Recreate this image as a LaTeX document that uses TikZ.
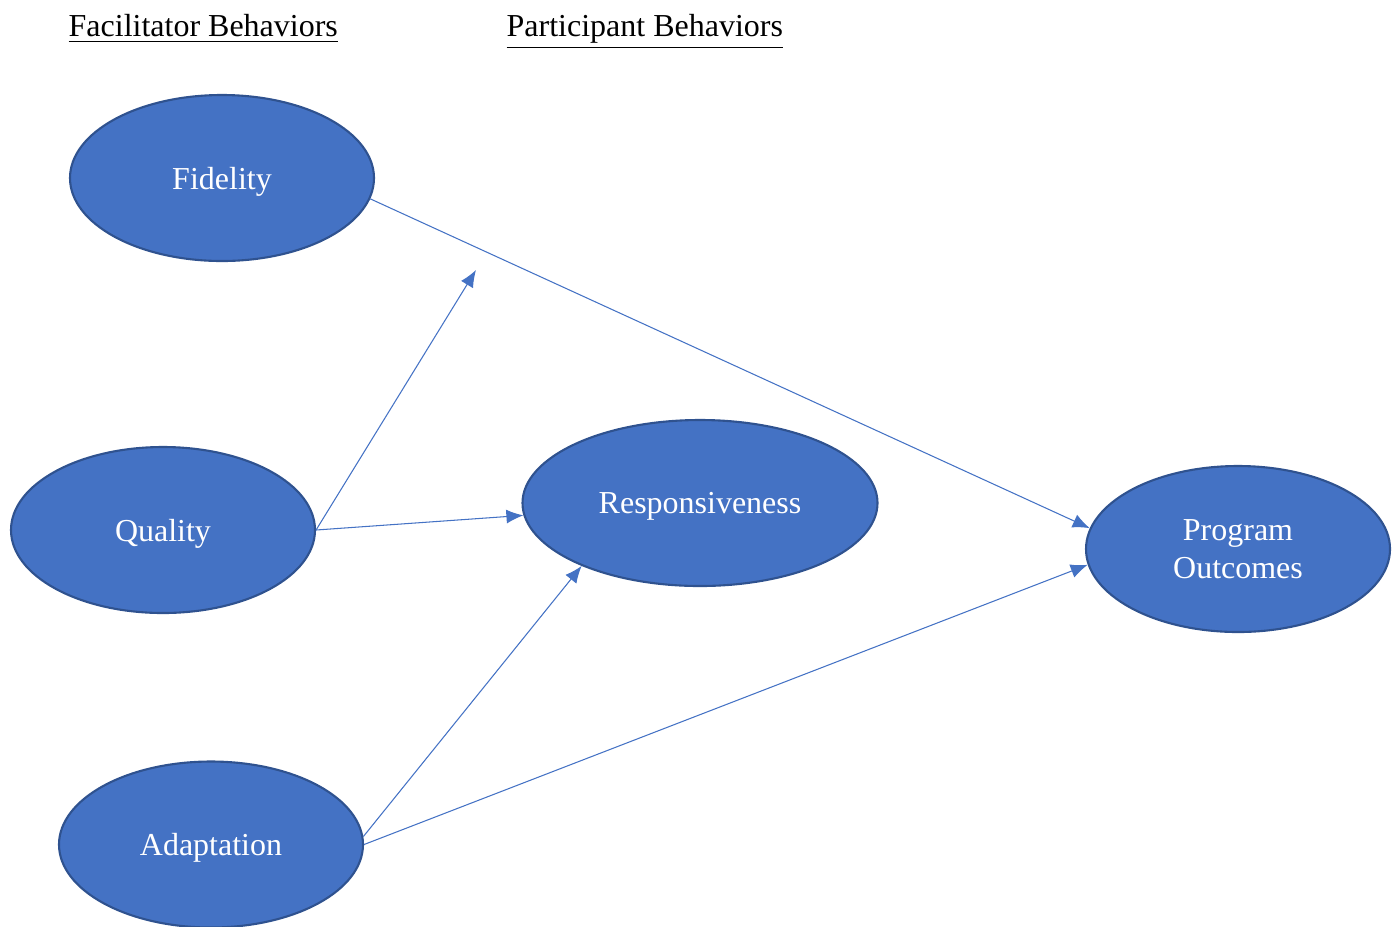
\documentclass[tikz,border=0pt]{standalone}
\usepackage{fontspec}
\setmainfont{Liberation Serif}
\usetikzlibrary{shapes.geometric,arrows.meta}
\definecolor{bubblefill}{HTML}{4472C4}
\definecolor{bubbledraw}{HTML}{2F528F}
\begin{document}
\begin{tikzpicture}[>={Latex[length=1.7mm,width=1.4mm]},
    bubble/.style={ellipse, fill=bubblefill, draw=bubbledraw, line width=0.6pt,
        text=white, inner sep=0pt, minimum width=3.04cm, minimum height=1.66cm,
        align=center, text depth=0pt, font=\fontsize{9.1}{10.6}\selectfont},
    link/.style={->, draw=bubblefill, line width=0.3pt},
    heading/.style={anchor=base west, inner sep=0pt, font=\fontsize{9.1}{10.6}\selectfont}]
    \useasboundingbox (0,0) rectangle (13.98,-9.26);

    % Tiêu đề
    \node[heading] (fach) at (0.68,-0.36) {\underline{Facilitator Behaviors}};
    \node[heading] (parth) at (5.06,-0.36) {\underline{Participant Behaviors}};

    % Các nút
    \node[bubble] (fid) at (2.22,-1.78) {Fidelity};
    \node[bubble] (qual) at (1.63,-5.30) {Quality};
    \node[bubble] (adapt) at (2.11,-8.445) {Adaptation};
    \node[bubble, minimum width=3.55cm] (resp) at (7.00,-5.03) {Responsiveness};
    \node[bubble] (po) at (12.38,-5.49) {Program\\Outcomes};
    \coordinate (mod) at (4.76,-2.70);

    % Các mũi tên
    \draw[link] (fid.-8) -- (po.172);
    \draw[link] (qual.east) -- (mod);
    \draw[link] (qual.east) -- (resp.184);
    \draw[link] (adapt.3) -- (resp.208);
    \draw[link] (adapt.east) -- (po.186);
\end{tikzpicture}
\end{document}
